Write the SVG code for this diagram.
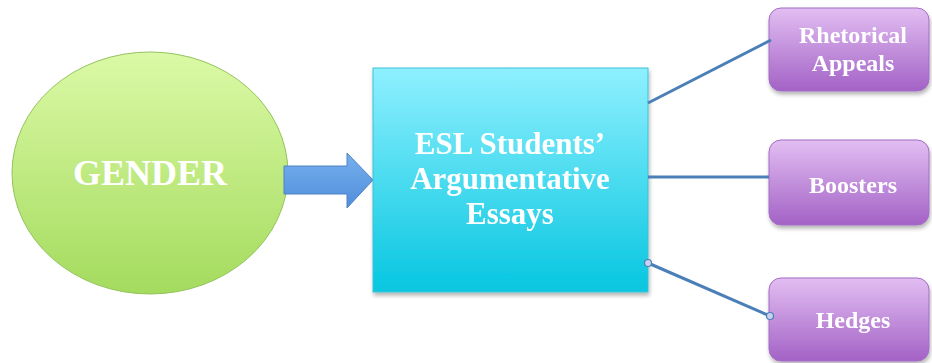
<svg xmlns="http://www.w3.org/2000/svg" width="932" height="363" viewBox="0 0 932 363">
<style>
.lbl{font-family:"Liberation Serif","Times New Roman",serif;font-weight:bold;fill:#ffffff;text-anchor:middle}
.conn{stroke:#4a7fb8;stroke-width:3;fill:none}
.handle{fill:#c9d3f0;stroke:#4a7fb8;stroke-width:1.2}
</style>
<defs>
<linearGradient id="gGreen" x1="0" y1="0" x2="0" y2="1">
<stop offset="0" stop-color="#dbf9a6"/>
<stop offset="1" stop-color="#a4db5e"/>
</linearGradient>
<linearGradient id="gCyan" x1="0" y1="0" x2="0" y2="1">
<stop offset="0" stop-color="#8ff0ff"/>
<stop offset="1" stop-color="#06c6e0"/>
</linearGradient>
<linearGradient id="gPurple" x1="0" y1="0" x2="0" y2="1">
<stop offset="0" stop-color="#e2bef2"/>
<stop offset="1" stop-color="#a362c6"/>
</linearGradient>
<linearGradient id="gBlue" x1="0" y1="0" x2="0" y2="1">
<stop offset="0" stop-color="#78b0ee"/>
<stop offset="1" stop-color="#4f8edb"/>
</linearGradient>
<filter id="sh" x="-10%" y="-10%" width="125%" height="130%">
<feGaussianBlur in="SourceAlpha" stdDeviation="2"/>
<feOffset dx="1" dy="3" result="b"/>
<feComponentTransfer><feFuncA type="linear" slope="0.3"/></feComponentTransfer>
<feMerge><feMergeNode/><feMergeNode in="SourceGraphic"/></feMerge>
</filter>
</defs>
<g id="gender">
<ellipse cx="150" cy="173" rx="138" ry="121" fill="url(#gGreen)" stroke="#94c35c" stroke-width="1"/>
<text class="lbl" x="150" y="185" font-size="36">GENDER</text>
</g>
<g id="arrow">
<path d="M284,166 L347,166 L347,153 L373,180 L347,208 L347,194 L284,194 Z" fill="url(#gBlue)" stroke="#4f82c4" stroke-width="1"/>
</g>
<g id="essays" filter="url(#sh)">
<rect x="373" y="68" width="275" height="224" fill="url(#gCyan)" stroke="#3cc0d8" stroke-width="1"/>
<text class="lbl" font-size="31"><tspan x="510" y="154">ESL Students’</tspan><tspan x="510" y="189">Argumentative</tspan><tspan x="510" y="224">Essays</tspan></text>
</g>
<g id="rhetorical" filter="url(#sh)">
<rect x="769" y="8" width="160" height="83" rx="12" fill="url(#gPurple)" stroke="#a36cc4" stroke-width="1"/>
<text class="lbl" font-size="24"><tspan x="853" y="43">Rhetorical</tspan><tspan x="853" y="71">Appeals</tspan></text>
</g>
<g id="boosters" filter="url(#sh)">
<rect x="769" y="140" width="160" height="85" rx="12" fill="url(#gPurple)" stroke="#a36cc4" stroke-width="1"/>
<text class="lbl" x="853" y="193" font-size="24">Boosters</text>
</g>
<g id="hedges" filter="url(#sh)">
<rect x="769" y="278" width="160" height="83" rx="12" fill="url(#gPurple)" stroke="#a36cc4" stroke-width="1"/>
<text class="lbl" x="853" y="328" font-size="24">Hedges</text>
</g>
<g id="connectors">
<line class="conn" x1="648" y1="103" x2="771" y2="40"/>
<line class="conn" x1="648" y1="177" x2="769" y2="177"/>
<line class="conn" x1="648" y1="263" x2="770" y2="316"/>
<circle class="handle" cx="648" cy="263" r="3.5"/>
<circle class="handle" cx="770" cy="316" r="3.5"/>
</g>
</svg>
